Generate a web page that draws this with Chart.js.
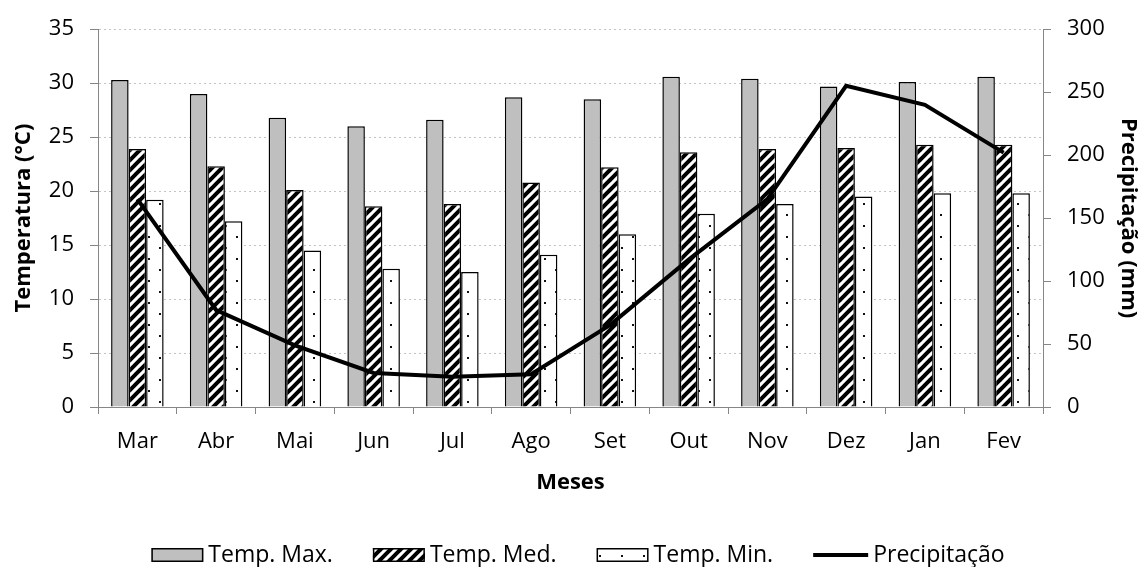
<!DOCTYPE html>
<html>
<head>
<meta charset="utf-8">
<script src="https://cdn.jsdelivr.net/npm/chart.js@4.4.1/dist/chart.umd.min.js"></script>
<style>
  html, body { margin: 0; padding: 0; background: #ffffff; }
  #wrap { width: 1146px; height: 567px; }
</style>
</head>
<body>
<div id="wrap"><canvas id="c" width="1146" height="567"></canvas></div>
<script>
const categories = ['Mar','Abr','Mai','Jun','Jul','Ago','Set','Out','Nov','Dez','Jan','Fev'];
const tempMax = [30.3, 29.0, 26.8, 26.0, 26.6, 28.7, 28.5, 30.6, 30.4, 29.7, 30.1, 30.6];
const tempMed = [23.9, 22.3, 20.1, 18.6, 18.8, 20.8, 22.2, 23.6, 23.9, 24.0, 24.3, 24.3];
const tempMin = [19.2, 17.2, 14.5, 12.8, 12.5, 14.1, 16.0, 17.9, 18.8, 19.5, 19.8, 19.8];
const precip  = [165, 77, 49, 27, 24, 26, 65, 117, 165, 255, 240, 202];
const tempTicks = [0, 5, 10, 15, 20, 25, 30, 35];
const precipTicks = [0, 50, 100, 150, 200, 250, 300];

const FONT = "'Open Sans', sans-serif";
const AXIS = '#868686';

function hatchPattern() {
  const p = 10;
  const c = document.createElement('canvas');
  c.width = p; c.height = p;
  const g = c.getContext('2d');
  g.fillStyle = '#ffffff'; g.fillRect(0, 0, p, p);
  g.strokeStyle = '#000000'; g.lineWidth = 4; g.lineCap = 'square';
  g.beginPath();
  for (let k = -1; k <= 1; k++) { g.moveTo(k * p, p); g.lineTo(k * p + p, 0); }
  g.stroke();
  return g.createPattern(c, 'repeat');
}
function dotPattern() {
  const w = 22, h = 22;
  const c = document.createElement('canvas');
  c.width = w; c.height = h;
  const g = c.getContext('2d');
  g.fillStyle = '#ffffff'; g.fillRect(0, 0, w, h);
  g.fillStyle = '#111111';
  g.fillRect(5, 5, 2, 2);
  g.fillRect(16, 16, 2, 2);
  return g.createPattern(c, 'repeat');
}

const customLegend = {
  id: 'customLegend',
  afterDraw(chart) {
    const ctx = chart.ctx;
    const items = chart.data.datasets.slice().sort((a, b) => a.legendIndex - b.legendIndex);
    ctx.save();
    ctx.font = '23px ' + FONT;
    ctx.textBaseline = 'middle';
    ctx.textAlign = 'left';
    const boxW = 52, boxH = 14, lineW = 55, gapText = 5, gapItem = 40;
    let total = 0;
    items.forEach((ds, i) => {
      total += (ds.type === 'line' ? lineW : boxW) + gapText + ctx.measureText(ds.label).width;
      if (i < items.length - 1) total += gapItem;
    });
    let x = 578 - total / 2;
    const yc = 555;
    items.forEach(ds => {
      if (ds.type === 'line') {
        ctx.strokeStyle = '#000'; ctx.lineWidth = 4; ctx.lineCap = 'butt';
        ctx.beginPath(); ctx.moveTo(x, yc); ctx.lineTo(x + lineW, yc); ctx.stroke();
        x += lineW;
      } else {
        ctx.fillStyle = ds.backgroundColor;
        ctx.fillRect(x, yc - boxH / 2, boxW, boxH);
        ctx.strokeStyle = '#000'; ctx.lineWidth = 1.5;
        ctx.strokeRect(x + 0.75, yc - boxH / 2 + 0.75, boxW - 1.5, boxH - 1.5);
        x += boxW;
      }
      x += gapText;
      ctx.fillStyle = '#000';
      ctx.fillText(ds.label, x, yc);
      x += ctx.measureText(ds.label).width + gapItem;
    });
    ctx.restore();
  }
};

const whiteBg = {
  id: 'whiteBg',
  beforeDraw(chart) {
    const ctx = chart.ctx;
    ctx.save(); ctx.fillStyle = '#fff'; ctx.fillRect(0, 0, chart.width, chart.height); ctx.restore();
  }
};

Chart.defaults.font.family = FONT;
Chart.defaults.color = '#000';

new Chart(document.getElementById('c'), {
  type: 'bar',
  data: {
    labels: categories,
    datasets: [
      { type: 'line', label: 'Precipitação', data: precip, yAxisID: 'y2', borderColor: '#000', backgroundColor: '#000',
        borderWidth: 4, pointRadius: 0, tension: 0, order: 0, legendIndex: 3, borderJoinStyle: 'miter' },
      { label: 'Temp. Max.', data: tempMax, yAxisID: 'y', backgroundColor: '#bfbfbf', borderColor: '#000', borderWidth: 1.5, order: 1, legendIndex: 0 },
      { label: 'Temp. Med.', data: tempMed, yAxisID: 'y', backgroundColor: hatchPattern(), borderColor: '#000', borderWidth: 1.5, order: 1, legendIndex: 1 },
      { label: 'Temp. Min.', data: tempMin, yAxisID: 'y', backgroundColor: dotPattern(), borderColor: '#000', borderWidth: 1.5, order: 1, legendIndex: 2 }
    ]
  },
  options: {
    responsive: false,
    animation: false,
    devicePixelRatio: 1,
    layout: { padding: { top: 25, bottom: 70, left: 0, right: 0 } },
    datasets: { bar: { categoryPercentage: 0.667, barPercentage: 1.0 } },
    plugins: { legend: { display: false }, tooltip: { enabled: false } },
    scales: {
      x: {
        position: 'bottom',
        grid: { offset: true, drawOnChartArea: false, drawTicks: true, tickLength: 7, color: AXIS, tickColor: AXIS },
        border: { color: AXIS, width: 1 },
        ticks: { font: { size: 22 }, padding: 15, color: '#000', maxRotation: 0 },
        title: { display: true, text: 'Meses', font: { size: 22, weight: 'bold', lineHeight: 1 }, padding: { top: 0, bottom: 3 }, color: '#000' },
        afterFit(scale) { scale.height = 90; }
      },
      y: {
        position: 'left',
        min: tempTicks[0], max: tempTicks[tempTicks.length - 1],
        afterBuildTicks(scale) { scale.ticks = tempTicks.map(v => ({ value: v })); },
        grid: { color: '#c4c4c4', drawOnChartArea: true, drawTicks: true, tickLength: 8, tickColor: AXIS, tickBorderDash: [] },
        border: { color: AXIS, width: 1, dash: [2, 3] },
        ticks: { font: { size: 22 }, padding: 16, color: '#000' },
        title: { display: true, text: 'Temperatura (°C)', font: { size: 22, weight: 'bold', lineHeight: 1 }, padding: { top: 13, bottom: 0 }, color: '#000' },
        afterFit(scale) { scale.width = 98; }
      },
      y2: {
        position: 'right',
        min: precipTicks[0], max: precipTicks[precipTicks.length - 1],
        afterBuildTicks(scale) { scale.ticks = precipTicks.map(v => ({ value: v })); },
        grid: { drawOnChartArea: false, drawTicks: true, tickLength: 8, color: AXIS, tickColor: AXIS },
        border: { color: AXIS, width: 1 },
        ticks: { font: { size: 22 }, padding: 16, color: '#000' },
        title: { display: true, text: 'Precipitação (mm)', font: { size: 22, weight: 'bold', lineHeight: 1 }, padding: { top: 7, bottom: 0 }, color: '#000' },
        afterFit(scale) { scale.width = 103; }
      }
    }
  },
  plugins: [whiteBg, customLegend]
});
</script>
</body>
</html>
